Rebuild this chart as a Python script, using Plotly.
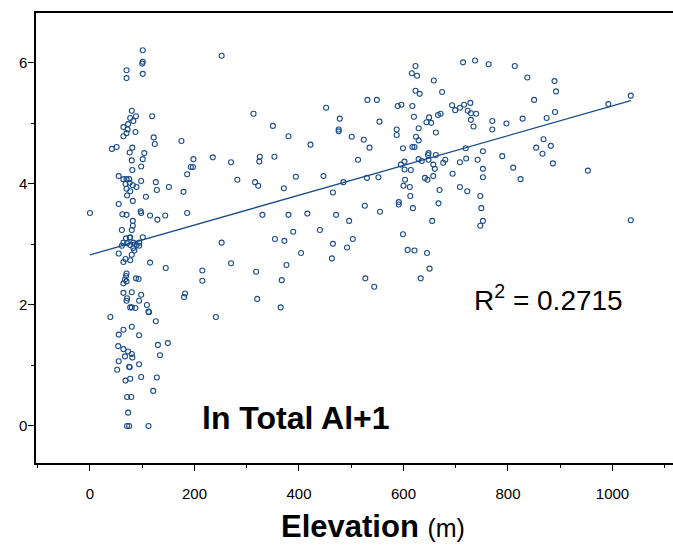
import plotly.graph_objects as go

# Elevation (m) and ln(Total Al + 1)
elevation = [
    101, 101, 100, 70, 70, 101, 252, 80, 77, 88, 119, 83, 73, 64, 72, 87, 70, 64, 122, 124,
    175, 42, 51, 81, 76, 104, 80, 101, 198, 235, 270, 98, 81, 193, 197, 186, 55, 64, 70, 75,
    98, 282, 68, 76, 82, 89, 126, 70, 77, 128, 151, 179, 71, 107, 82, 55, 0, 62, 70, 97,
    98, 115, 129, 144, 186, 82, 82, 80, 61, 76, 69, 101,
    252, 77, 64, 71, 77, 83, 89, 94, 94, 61, 83, 85, 80, 55, 77, 68, 64, 115, 145, 215,
    215, 270, 70, 69, 67, 70, 64, 88, 93, 64, 80, 98, 71, 70, 94, 109, 77, 80, 87, 112,
    113, 182, 180, 39, 241, 126, 80, 64, 55, 94, 130, 149, 54, 64, 73, 80, 81, 67, 134, 55,
    94, 75, 52, 98, 128, 77, 68, 121, 71, 79, 73, 71, 75, 112, 76,
    313, 350, 380, 325, 324, 353, 422, 452, 478, 476, 476, 501, 531, 549, 554, 524, 535, 513, 589, 596,
    617, 620, 616, 626, 623, 623, 631, 658, 674, 587, 587, 629, 644, 649, 653, 666, 671, 693, 699, 708,
    624, 629, 662, 599, 617, 621, 648, 647, 662, 629, 635, 648, 602, 595, 602, 614, 657, 660, 676, 680,
    708, 641, 646, 657, 694, 708, 603, 600, 612, 669, 613, 591, 591, 618, 667, 655, 599, 608, 621, 645,
    650, 633, 316, 322, 371, 394, 447, 485, 530, 552, 465, 330, 380, 416, 471, 496, 526, 555, 354, 372,
    389, 440, 404, 465, 503, 492, 463, 376, 318, 367, 527, 544, 320, 365,
    714, 737, 763, 813, 837, 889, 892, 850, 1035, 992, 716, 728, 723, 729, 739, 729, 734, 770, 770, 797,
    828, 874, 890, 868, 854, 882, 866, 886, 719, 752, 789, 720, 742, 752, 752, 810, 824, 953, 722, 747,
    749, 752, 747, 1035,
]
ln_total_al = [
    6.21, 6.02, 5.99, 5.88, 5.75, 5.82, 6.12, 5.21, 5.09, 5.12, 5.12, 5.04, 4.99, 4.94, 4.90, 4.86, 4.84, 4.79, 4.77, 4.66,
    4.71, 4.58, 4.61, 4.60, 4.52, 4.51, 4.39, 4.41, 4.41, 4.44, 4.36, 4.29, 4.23, 4.28, 4.28, 4.16, 4.13, 4.08, 4.08, 4.08,
    4.05, 4.07, 4.00, 4.02, 3.98, 3.95, 4.03, 3.92, 3.88, 3.90, 3.95, 3.87, 3.81, 3.79, 3.72, 3.67, 3.52, 3.50, 3.49, 3.55,
    3.52, 3.48, 3.41, 3.48, 3.52, 3.39, 3.31, 3.24, 3.24, 3.11, 3.10, 3.12,
    3.03, 3.12, 3.03, 3.02, 2.99, 3.03, 2.99, 3.03, 2.98, 2.98, 2.94, 2.90, 2.83, 2.85, 2.74, 2.76, 2.71, 2.70, 2.61, 2.57,
    2.40, 2.69, 2.52, 2.48, 2.42, 2.39, 2.36, 2.44, 2.43, 2.20, 2.21, 2.17, 2.11, 2.07, 2.07, 2.00, 1.96, 1.96, 1.95, 1.89,
    1.88, 2.19, 2.13, 1.80, 1.80, 1.73, 1.64, 1.59, 1.51, 1.50, 1.34, 1.37, 1.32, 1.27, 1.23, 1.19, 1.13, 1.15, 1.17, 1.07,
    1.02, 0.98, 0.93, 0.81, 0.80, 0.78, 0.75, 0.58, 0.48, 0.48, 0.22, 0.00, 0.00, 0.00, 0.97,
    5.16, 4.96, 4.79, 4.45, 4.37, 4.45, 4.65, 5.26, 5.08, 4.90, 4.87, 4.78, 5.39, 5.39, 5.03, 4.73, 4.60, 4.40, 5.29, 5.31,
    5.29, 5.11, 5.83, 5.79, 5.95, 5.54, 5.49, 5.71, 5.52, 4.90, 4.81, 4.92, 5.02, 5.10, 5.01, 5.14, 5.16, 5.30, 5.22, 5.26,
    4.78, 4.72, 4.85, 4.59, 4.61, 4.61, 4.51, 4.48, 4.48, 4.41, 4.38, 4.40, 4.37, 4.32, 4.24, 4.23, 4.32, 4.25, 4.35, 4.40,
    4.36, 4.10, 4.07, 4.13, 4.17, 3.95, 4.07, 3.97, 3.95, 3.90, 3.80, 3.70, 3.66, 3.60, 3.68, 3.39, 3.17, 2.91, 2.90, 2.86,
    2.60, 2.44, 4.03, 3.97, 3.93, 4.12, 4.13, 4.03, 4.10, 4.11, 3.86, 3.49, 3.49, 3.51, 3.49, 3.39, 3.64, 3.54, 3.09, 3.06,
    3.21, 3.24, 2.86, 3.01, 3.09, 2.95, 2.77, 2.66, 2.55, 2.41, 2.44, 2.30, 2.10, 1.96,
    6.01, 6.04, 5.98, 5.95, 5.76, 5.70, 5.53, 5.39, 5.46, 5.32, 5.31, 5.34, 5.21, 5.17, 5.16, 5.06, 4.95, 5.04, 4.90, 5.00,
    5.08, 5.09, 5.19, 4.74, 4.60, 4.63, 4.50, 4.34, 4.59, 4.54, 4.46, 4.42, 4.40, 4.25, 4.11, 4.27, 4.08, 4.22, 3.88, 3.80,
    3.60, 3.39, 3.31, 3.40,
]

# Linear trend shown in the reference
fit_intercept = 2.83
fit_slope = 0.00246
r_squared = "0.2715"

x_ticks = [0, 200, 400, 600, 800, 1000]
y_ticks = [0, 2, 4, 6]

blue = "#1b4d8a"
font_family = "Liberation Sans, Arial, sans-serif"

x_line = [min(elevation), max(elevation)]
y_line = [fit_intercept + fit_slope * v for v in x_line]

fig = go.Figure()
fig.add_trace(go.Scatter(
    x=elevation, y=ln_total_al, mode="markers",
    marker=dict(symbol="circle-open", size=5, color=blue, line=dict(width=1.1, color=blue)),
    showlegend=False, hoverinfo="x+y",
))
fig.add_trace(go.Scatter(
    x=x_line, y=y_line, mode="lines",
    line=dict(color=blue, width=1.3), showlegend=False, hoverinfo="skip",
))

# y tick labels placed slightly closer to the axis than Plotly's default
y_label_annotations = [
    dict(text=str(v), xref="paper", yref="y", x=-0.011, y=v, xanchor="right", yanchor="middle",
         showarrow=False, font=dict(size=15, family=font_family, color="black"))
    for v in y_ticks
]

fig.update_layout(
    width=673, height=548,
    margin=dict(l=36, r=0, t=13, b=85),
    paper_bgcolor="white", plot_bgcolor="white",
    font=dict(family=font_family, color="black", size=15),
    xaxis=dict(
        range=[-103.3, 1115.8], tickvals=x_ticks, ticktext=[str(v) for v in x_ticks],
        showgrid=False, zeroline=False, showline=True, linecolor="black", linewidth=2, mirror=True,
        ticks="outside", ticklen=6, tickwidth=1, tickcolor="black", ticklabelstandoff=10,
        minor=dict(dtick=100, tick0=0, ticks="outside", ticklen=3, tickwidth=1, tickcolor="black"),
        tickfont=dict(size=15),
    ),
    yaxis=dict(
        range=[-0.612, 6.826], tickvals=y_ticks, showticklabels=False,
        showgrid=False, zeroline=False, showline=True, linecolor="black", linewidth=2,
        ticks="outside", ticklen=6, tickwidth=1, tickcolor="black",
        minor=dict(dtick=1, tick0=0, ticks="outside", ticklen=3, tickwidth=1, tickcolor="black"),
    ),
    annotations=y_label_annotations + [
        dict(text="<b>Elevation</b> <span style='font-size:25px'>(m)</span>",
             xref="paper", yref="paper", x=0.529, y=-0.142, xanchor="center", yanchor="middle",
             showarrow=False, font=dict(size=31, family=font_family)),
        dict(text="<b>ln Total Al+1</b>",
             xref="paper", yref="paper", x=0.408, y=0.10, xanchor="center", yanchor="middle",
             showarrow=False, font=dict(size=32, family=font_family)),
        dict(text="R<sup>2</sup> = " + r_squared,
             xref="paper", yref="paper", x=0.805, y=0.367, xanchor="center", yanchor="middle",
             showarrow=False, font=dict(size=28, family=font_family)),
    ],
)

fig.write_html("out.html")
